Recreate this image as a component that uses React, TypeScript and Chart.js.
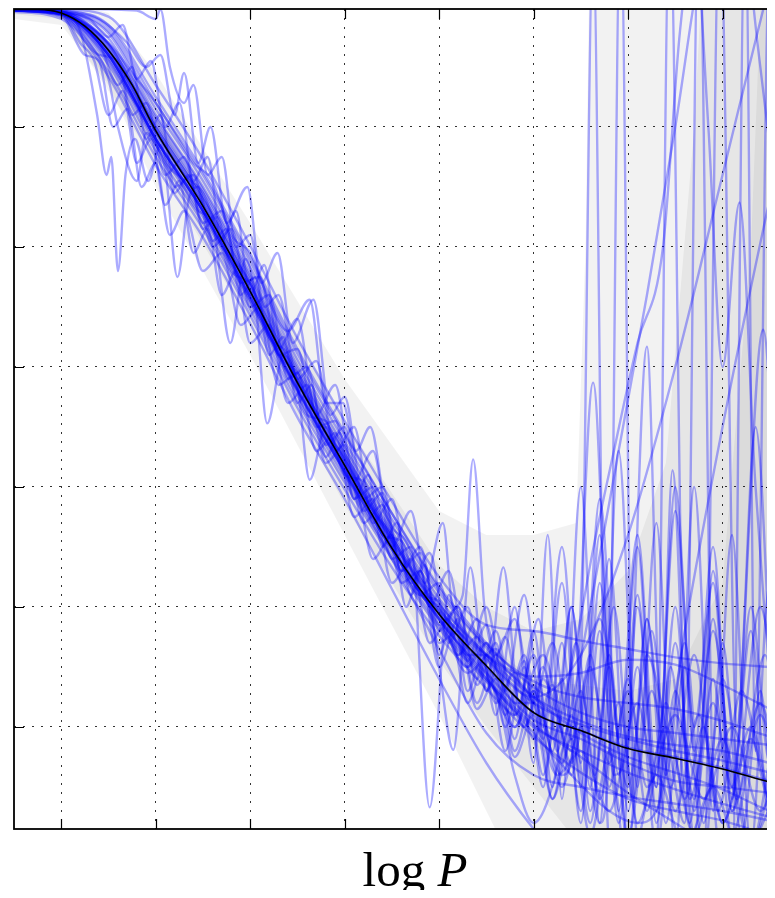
import React, { useEffect, useRef } from "react";
import { Chart, registerables } from "chart.js";

Chart.register(...registerables);

// ---- axes ----
const X_TICKS = [1, 2, 3, 4, 5, 6, 7, 8];
const Y_TICKS = [1, 2, 3, 4, 5, 6];
const X_RANGE = [0.5, 8.566];
const Y_RANGE = [0.15, 6.983];
const X_LABEL_MAIN = "log ";
const X_LABEL_VAR = "P";

// ---- posterior mean ----
const MEAN_X = [0.5, 0.75, 1, 1.25, 1.5, 1.75, 2, 2.5, 3, 3.5, 4, 4.5, 5, 5.5, 6, 6.5, 7, 7.5, 8, 8.5, 8.6];
const MEAN_Y = [6.98, 6.98, 6.95, 6.84, 6.64, 6.35, 5.97, 5.34, 4.63, 3.87, 3.18, 2.49, 1.94, 1.51, 1.12, 0.97, 0.82, 0.74, 0.65, 0.54, 0.52];

// ---- confidence bands ----
const OUTER_X = [0.5, 1, 1.5, 2, 3, 4, 5, 5.5, 6, 6.45, 6.55, 6.62, 8.6];
const OUTER_UP = [7.1, 7.05, 6.95, 6.45, 5.2, 3.9, 2.8, 2.6, 2.6, 2.7, 5.0, 9, 9];
const OUTER_LO = [6.9, 6.85, 6.35, 5.5, 4.1, 2.6, 1.1, 0.3, -0.5, -1, -1, -1, -1];
const MID_X = [0.5, 1, 2, 3, 4, 5, 5.5, 6, 6.5, 7, 7.4, 7.7, 7.9, 8.6];
const MID_UP = [7.02, 7.0, 6.25, 4.95, 3.55, 2.35, 2.0, 1.8, 1.9, 2.3, 3.2, 6, 9, 9];
const MID_LO = [6.94, 6.9, 5.7, 4.35, 2.85, 1.55, 1.0, 0.5, 0.0, -1, -1, -1, -1, -1];
const INNER_X = [0.5, 1, 2, 3, 4, 5, 5.5, 6, 6.5, 7, 7.5, 8, 8.3, 8.5, 8.6];
const INNER_UP = [6.99, 6.97, 6.08, 4.78, 3.35, 2.1, 1.7, 1.4, 1.35, 1.3, 1.4, 2.2, 5, 9, 9];
const INNER_LO = [6.96, 6.93, 5.82, 4.48, 3.0, 1.78, 1.3, 0.85, 0.6, 0.4, 0.25, -0.2, -1, -1, -1];

// ---- smooth posterior samples (on a common grid) ----
const GRID_X = [0.5, 1, 1.5, 2, 2.5, 3, 3.5, 4, 4.5, 5, 5.5, 6, 6.5, 7, 7.5, 8, 8.5, 8.9];
const b01 = [6.99, 6.96, 6.78, 6.10, 5.50, 4.78, 4.01, 3.33, 2.68, 2.07, 1.60, 1.25, 1.05, 0.92, 0.85, 0.80, 0.70, 0.62];
const b02 = [6.97, 6.93, 6.52, 5.80, 5.20, 4.48, 3.71, 3.04, 2.40, 1.82, 1.38, 1.00, 0.80, 0.62, 0.48, 0.36, 0.25, 0.18];
const b03 = [6.99, 6.97, 6.85, 6.25, 5.63, 4.92, 4.15, 3.45, 2.78, 2.15, 1.68, 1.38, 1.25, 1.20, 1.15, 1.05, 0.92, 0.85];
const b04 = [6.98, 6.94, 6.56, 5.85, 5.25, 4.53, 3.76, 3.08, 2.43, 1.85, 1.40, 1.02, 0.75, 0.45, 0.20, -0.05, -0.3, -0.5];
const b05 = [6.99, 6.95, 6.69, 6.00, 5.40, 4.68, 3.91, 3.23, 2.58, 1.98, 1.60, 1.42, 1.45, 1.56, 1.52, 1.35, 1.15, 1.00];
const b06 = [6.99, 6.98, 6.92, 6.35, 5.73, 5.01, 4.24, 3.55, 2.88, 2.25, 1.85, 1.80, 1.72, 1.65, 1.58, 1.53, 1.50, 1.48];
const b07 = [6.97, 6.94, 6.60, 5.90, 5.30, 4.58, 3.81, 3.12, 2.40, 1.65, 0.95, 0.60, 0.50, 0.42, 0.36, 0.30, 0.22, 0.15];
const b08 = [6.96, 6.90, 6.42, 5.68, 5.08, 4.36, 3.58, 2.90, 2.15, 1.40, 0.70, 0.15, -0.3, -0.6, -0.8, -1, -1, -1];
const b09 = [6.98, 6.96, 6.74, 6.05, 5.45, 4.73, 3.96, 3.28, 2.63, 2.03, 1.58, 1.20, 1.02, 0.90, 0.80, 0.72, 0.62, 0.55];
const b10 = [6.98, 6.95, 6.60, 5.90, 5.30, 4.58, 3.81, 3.13, 2.48, 1.89, 1.45, 1.06, 0.90, 0.70, 0.55, 0.50, 0.45, 0.38];
const b11 = [6.99, 6.96, 6.80, 6.15, 5.55, 4.83, 4.06, 3.38, 2.73, 2.12, 1.66, 1.25, 0.95, 0.75, 0.62, 0.48, 0.30, 0.20];
const b12 = [6.97, 6.92, 6.46, 5.75, 5.15, 4.43, 3.66, 2.98, 2.33, 1.76, 1.32, 0.92, 0.62, 0.40, 0.30, 0.22, 0.10, 0.05];
const b13 = [6.99, 6.96, 6.83, 6.20, 5.60, 4.88, 4.11, 3.43, 2.78, 2.17, 1.70, 1.33, 1.12, 1.00, 0.95, 0.90, 0.85, 0.80];
const b14 = [6.98, 6.95, 6.65, 5.97, 5.37, 4.64, 3.87, 3.19, 2.54, 1.95, 1.50, 1.12, 0.97, 0.83, 0.75, 0.66, 0.55, 0.47];
const GRID_SAMPLES = [b01, b02, b03, b04, b05, b06, b07, b08, b09, b10, b11, b12, b13, b14];

// ---- wiggly posterior samples ([logP, value] pairs) ----
const w01: number[][] = [[0.5, 6.98], [1.0, 6.95], [1.2, 6.8], [1.38, 6.1], [1.48, 5.6], [1.53, 5.75], [1.6, 4.8], [1.68, 5.6], [1.78, 5.9], [1.92, 5.55], [2.05, 5.85], [2.2, 5.45], [2.35, 5.6], [2.5, 5.15], [2.65, 5.25], [2.8, 4.8], [3.0, 4.7], [3.2, 4.25], [3.4, 4.1], [3.6, 3.6], [3.8, 3.55], [4.0, 3.1], [4.2, 3.05], [4.4, 2.6], [4.6, 2.55], [4.8, 2.1], [5.0, 2.05], [5.2, 1.6], [5.4, 1.75], [5.6, 1.2], [5.8, 1.45], [6.0, 0.9], [6.2, 1.35], [6.4, 0.6], [6.6, 1.6], [6.8, 0.5], [7.0, 1.4], [7.2, 0.3], [7.4, 1.2], [7.6, 0.4], [7.8, 1.0], [8.0, 0.2], [8.3, 0.9], [8.6, 0.1], [8.9, 0.6]];
const w02: number[][] = [[0.5, 6.97], [1.0, 6.94], [1.3, 6.7], [1.5, 6.4], [1.6, 6.0], [1.8, 5.55], [1.9, 5.95], [2.0, 5.85], [2.1, 5.65], [2.23, 4.75], [2.35, 5.4], [2.45, 5.5], [2.6, 5.05], [2.75, 5.15], [2.9, 4.6], [3.05, 4.75], [3.2, 4.1], [3.35, 4.25], [3.5, 3.7], [3.65, 3.85], [3.8, 3.25], [3.95, 3.45], [4.1, 2.9], [4.25, 3.1], [4.4, 2.5], [4.55, 2.7], [4.7, 2.1], [4.85, 2.35], [5.0, 1.6], [5.15, 1.95], [5.3, 1.3], [5.5, 1.7], [5.7, 1.0], [5.9, 1.55], [6.1, 0.6], [6.3, 1.4], [6.5, 0.3], [6.7, 1.8], [6.9, 0.2], [7.1, 1.5], [7.3, 0.0], [7.5, 1.3], [7.7, 0.4], [7.9, 1.9], [8.1, 0.3], [8.4, 1.2], [8.7, 0.2], [8.9, 0.7]];
const w03: number[][] = [[0.5, 6.99], [1.0, 6.97], [1.4, 6.9], [1.7, 6.7], [1.9, 6.5], [2.05, 6.6], [2.2, 6.1], [2.3, 6.45], [2.45, 5.7], [2.58, 6.0], [2.75, 5.2], [2.97, 5.5], [3.12, 4.7], [3.29, 4.95], [3.45, 4.2], [3.67, 4.56], [3.85, 3.6], [4.0, 3.75], [4.2, 2.9], [4.4, 3.0], [4.6, 2.3], [4.8, 2.5], [5.0, 1.85], [5.2, 2.0], [5.4, 1.4], [5.6, 1.8], [5.8, 1.1], [6.0, 1.6], [6.2, 0.8], [6.4, 2.0], [6.6, 0.5], [6.8, 2.4], [7.0, 0.3], [7.2, 1.9], [7.4, 0.6], [7.6, 1.7], [7.8, 0.2], [8.0, 1.4], [8.3, 0.0], [8.6, 1.0], [8.9, 0.3]];
const w04: number[][] = [[0.5, 6.98], [1.0, 6.95], [1.5, 6.7], [1.8, 6.4], [2.0, 6.2], [2.2, 5.95], [2.4, 5.7], [2.6, 5.55], [2.8, 5.1], [3.0, 4.95], [3.2, 4.55], [3.4, 4.3], [3.63, 4.56], [3.8, 3.7], [3.98, 3.7], [4.12, 3.3], [4.27, 3.5], [4.45, 2.75], [4.65, 2.55], [4.85, 2.2], [5.04, 2.7], [5.15, 2.0], [5.25, 2.1], [5.36, 3.23], [5.48, 2.0], [5.6, 1.6], [5.8, 1.9], [6.0, 1.2], [6.2, 1.7], [6.4, 0.9], [6.6, 1.5], [6.8, 0.7], [7.0, 1.3], [7.2, 0.5], [7.5, 1.1], [7.8, 0.4], [8.1, 1.0], [8.4, 0.3], [8.7, 0.8], [8.9, 0.5]];
const w05: number[][] = [[0.5, 6.97], [1.0, 6.94], [1.4, 6.6], [1.6, 6.55], [1.75, 6.1], [1.9, 6.2], [2.1, 5.6], [2.3, 5.75], [2.5, 5.2], [2.7, 5.3], [2.9, 4.7], [3.1, 4.75], [3.3, 4.1], [3.5, 4.15], [3.7, 3.5], [3.9, 3.55], [4.1, 2.9], [4.3, 3.0], [4.5, 2.4], [4.7, 2.5], [4.9, 0.33], [5.1, 2.1], [5.3, 1.5], [5.5, 1.85], [5.7, 1.1], [5.9, 1.6], [6.1, 0.9], [6.3, 2.2], [6.5, 0.5], [6.7, 2.6], [6.9, 0.3], [7.1, 2.1], [7.3, 0.2], [7.5, 1.7], [7.7, 0.3], [7.9, 1.4], [8.1, 0.1], [8.4, 1.1], [8.7, 0.3], [8.9, 0.8]];
const w06: number[][] = [[0.5, 6.98], [1.0, 6.95], [1.3, 6.75], [1.5, 6.55], [1.7, 6.3], [1.9, 6.05], [2.1, 5.7], [2.3, 5.55], [2.5, 5.3], [2.7, 5.0], [2.9, 4.8], [3.1, 4.45], [3.3, 4.15], [3.5, 3.9], [3.7, 3.6], [3.9, 3.3], [4.1, 3.05], [4.3, 2.8], [4.5, 2.55], [4.7, 2.2], [4.9, 2.0], [5.0, 1.5], [5.15, 0.81], [5.33, 2.33], [5.5, 1.3], [5.68, 2.33], [5.85, 1.2], [6.05, 1.9], [6.25, 0.8], [6.45, 1.7], [6.65, 0.6], [6.85, 2.0], [7.05, 0.4], [7.25, 1.8], [7.45, 0.5], [7.7, 1.6], [7.95, 0.3], [8.2, 1.3], [8.5, 0.4], [8.9, 0.9]];
const w07: number[][] = [[0.5, 6.99], [1.0, 6.99], [1.5, 6.98], [1.8, 6.97], [2.0, 6.9], [2.05, 6.98], [2.15, 6.5], [2.3, 6.2], [2.4, 6.35], [2.55, 5.6], [2.7, 5.75], [2.85, 5.0], [3.0, 5.1], [3.15, 4.5], [3.3, 4.6], [3.5, 3.9], [3.7, 4.05], [3.9, 3.3], [4.1, 3.5], [4.3, 2.7], [4.5, 2.9], [4.7, 2.2], [4.9, 2.45], [5.1, 1.7], [5.3, 2.0], [5.5, 1.3], [5.7, 1.75], [5.9, 1.0], [6.1, 1.5], [6.3, 0.7], [6.5, 1.3], [6.7, 0.4], [6.9, 1.2], [7.1, 0.2], [7.4, 1.0], [7.7, 0.1], [8.0, 0.9], [8.3, 0.0], [8.6, 0.7], [8.9, 0.2]];
const w08: number[][] = [[0.5, 6.98], [1.0, 6.95], [1.5, 6.6], [1.8, 6.2], [2.0, 5.9], [2.2, 5.65], [2.45, 5.3], [2.6, 5.2], [2.79, 4.2], [2.95, 4.9], [3.05, 4.6], [3.18, 3.53], [3.35, 4.1], [3.5, 3.85], [3.63, 3.06], [3.8, 3.5], [4.0, 3.1], [4.15, 2.9], [4.3, 2.4], [4.5, 2.6], [4.65, 2.0], [4.8, 2.3], [5.0, 1.5], [5.2, 1.9], [5.4, 1.2], [5.6, 1.6], [5.8, 0.8], [6.0, 1.3], [6.2, 0.4], [6.4, 1.1], [6.6, 0.2], [6.8, 1.5], [7.0, 0.1], [7.25, 1.3], [7.5, 0.3], [7.75, 1.1], [8.0, 0.2], [8.3, 1.0], [8.6, 0.1], [8.9, 0.6]];
const w09: number[][] = [[0.5, 6.98], [1.0, 6.95], [1.2, 6.7], [1.35, 6.55], [1.5, 6.1], [1.65, 6.3], [1.8, 5.7], [1.95, 5.9], [2.1, 5.35], [2.25, 5.55], [2.4, 4.95], [2.55, 5.15], [2.7, 4.6], [2.85, 4.8], [3.0, 4.2], [3.2, 4.35], [3.4, 3.7], [3.6, 3.85], [3.8, 3.2], [4.0, 3.35], [4.2, 2.7], [4.4, 2.85], [4.6, 2.2], [4.8, 2.3], [5.0, 1.7], [5.2, 1.8], [5.4, 1.15], [5.6, 1.4], [5.8, 0.75], [6.0, 1.1], [6.2, 0.4], [6.4, 0.9], [6.6, 0.1], [6.8, 0.8], [7.0, -0.2], [7.3, 0.6], [7.6, 0.0], [7.9, 0.5], [8.2, -0.1], [8.6, 0.4], [8.9, 0.2]];
const w10: number[][] = [[0.5, 6.97], [1.0, 6.93], [1.25, 6.6], [1.4, 6.55], [1.55, 6.0], [1.7, 6.15], [1.85, 5.5], [2.0, 5.7], [2.15, 5.1], [2.3, 5.3], [2.5, 4.8], [2.7, 4.95], [2.9, 4.35], [3.1, 4.5], [3.3, 3.85], [3.5, 3.95], [3.7, 3.3], [3.9, 3.45], [4.1, 2.75], [4.3, 2.9], [4.5, 2.2], [4.7, 2.4], [4.9, 1.7], [5.1, 1.9], [5.3, 1.2], [5.5, 1.6], [5.7, 0.8], [5.9, 1.5], [6.1, 0.5], [6.3, 1.7], [6.5, 0.2], [6.7, 2.2], [6.9, 0.6], [7.1, 2.5], [7.3, 0.3], [7.5, 2.0], [7.7, 0.1], [7.9, 2.3], [8.1, 0.5], [8.3, 1.8], [8.5, 0.2], [8.7, 1.5], [8.9, 0.4]];
const w11: number[][] = [[0.5, 6.99], [1.0, 6.97], [1.3, 6.9], [1.5, 6.75], [1.65, 6.85], [1.8, 6.4], [1.95, 6.55], [2.1, 6.0], [2.25, 6.2], [2.4, 5.55], [2.55, 5.75], [2.7, 5.05], [2.85, 5.3], [3.0, 4.6], [3.15, 4.85], [3.3, 4.15], [3.5, 4.4], [3.7, 3.6], [3.9, 3.85], [4.1, 3.05], [4.3, 3.3], [4.5, 2.5], [4.7, 2.8], [4.9, 2.0], [5.1, 2.3], [5.3, 1.55], [5.5, 2.0], [5.7, 1.3], [5.9, 2.1], [6.1, 1.0], [6.3, 2.5], [6.5, 0.7], [6.7, 2.9], [6.9, 0.9], [7.1, 2.6], [7.3, 0.6], [7.5, 2.8], [7.7, 1.0], [7.9, 2.2], [8.1, 0.4], [8.3, 2.0], [8.5, 0.7], [8.7, 1.7], [8.9, 0.5]];
const w12: number[][] = [[0.5, 6.98], [1.0, 6.95], [1.4, 6.7], [1.6, 6.35], [1.75, 6.5], [1.9, 5.9], [2.05, 6.1], [2.2, 5.5], [2.4, 5.6], [2.6, 5.0], [2.8, 5.15], [3.0, 4.5], [3.2, 4.6], [3.4, 3.9], [3.6, 4.0], [3.8, 3.35], [4.0, 3.5], [4.2, 2.8], [4.4, 2.95], [4.6, 2.3], [4.8, 2.45], [5.0, 1.8], [5.2, 2.0], [5.4, 1.35], [5.6, 1.7], [5.8, 0.9], [6.0, 1.8], [6.2, 0.5], [6.4, 2.0], [6.6, 0.3], [6.8, 1.6], [7.0, 0.0], [7.2, 1.9], [7.4, 0.2], [7.6, 1.5], [7.8, -0.1], [8.0, 1.7], [8.2, 0.1], [8.4, 1.3], [8.6, -0.2], [8.9, 1.0]];
const w13: number[][] = [[0.5, 6.98], [1.0, 6.95], [1.5, 6.63], [2.0, 5.96], [2.5, 5.35], [3.0, 4.62], [3.5, 3.88], [4.0, 3.17], [4.5, 2.52], [4.8, 2.1], [5.0, 2.2], [5.2, 1.6], [5.4, 1.9], [5.6, 1.1], [5.8, 2.0], [6.0, 0.7], [6.15, 2.6], [6.3, 0.4], [6.5, 3.0], [6.7, 0.2], [6.9, 3.3], [7.1, 0.5], [7.3, 2.7], [7.5, 0.0], [7.7, 3.0], [7.9, 0.3], [8.1, 2.6], [8.3, 0.0], [8.5, 2.2], [8.7, 0.3], [8.9, 1.8]];

// ---- samples that blow up at large log P ----
const r01: number[][] = [[0.5, 6.98], [1.0, 6.95], [1.5, 6.66], [2.0, 5.98], [2.3, 5.6], [2.5, 5.45], [2.7, 5.05], [3.0, 4.7], [3.3, 4.1], [3.5, 3.95], [3.8, 3.45], [4.0, 3.25], [4.3, 2.8], [4.5, 2.6], [4.8, 2.1], [5.0, 2.0], [5.3, 1.6], [5.5, 1.6], [5.8, 1.2], [6.0, 1.2], [6.3, 0.6], [6.5, 1.5], [6.63, 7.5], [6.75, 1.0], [6.9, -0.5], [7.1, 2.0], [7.3, 0.5], [7.5, 3.0], [7.7, 0.8], [7.9, 2.5], [8.1, 0.3], [8.4, 2.0], [8.7, 0.5], [8.9, 1.5]];
const r02: number[][] = [[0.5, 6.97], [1.0, 6.94], [1.5, 6.6], [2.0, 5.9], [2.5, 5.3], [3.0, 4.58], [3.5, 3.82], [4.0, 3.14], [4.5, 2.5], [5.0, 1.9], [5.3, 1.5], [5.5, 1.7], [5.8, 1.0], [6.0, 1.35], [6.3, 0.5], [6.5, 1.0], [6.7, 0.2], [6.8, 0.8], [6.92, 7.8], [7.05, 0.5], [7.25, -0.3], [7.45, 1.5], [7.65, 0.2], [7.9, 1.8], [8.15, 0.4], [8.45, 1.6], [8.7, 0.2], [8.9, 0.9]];
const r03: number[][] = [[0.5, 6.99], [1.0, 6.96], [1.5, 6.68], [2.0, 6.0], [2.5, 5.4], [3.0, 4.68], [3.5, 3.9], [4.0, 3.22], [4.5, 2.56], [5.0, 1.96], [5.3, 1.7], [5.6, 1.3], [5.8, 0.6], [6.0, 0.2], [6.3, 0.8], [6.6, 2.0], [6.9, 3.3], [7.2, 4.6], [7.5, 6.0], [7.8, 7.5], [8.1, 8.2], [8.4, 6.5], [8.7, 4.5], [8.9, 3.2]];
const r04: number[][] = [[0.5, 6.98], [1.0, 6.95], [1.5, 6.62], [2.0, 5.93], [2.5, 5.33], [3.0, 4.6], [3.5, 3.84], [4.0, 3.16], [4.5, 2.5], [5.0, 1.92], [5.5, 1.45], [5.8, 1.0], [6.0, 1.3], [6.2, 0.9], [6.4, 1.5], [6.63, 2.48], [6.85, 3.3], [7.1, 4.2], [7.37, 5.0], [7.55, 6.8], [7.7, 7.6], [7.85, 6.0], [8.0, 4.0], [8.18, 5.37], [8.35, 3.0], [8.6, 1.0], [8.9, 2.0]];
const r05: number[][] = [[0.5, 6.98], [1.0, 6.96], [1.5, 6.7], [2.0, 6.08], [2.5, 5.48], [3.0, 4.75], [3.5, 3.98], [4.0, 3.28], [4.5, 2.6], [5.0, 2.02], [5.5, 1.6], [6.0, 1.2], [6.25, 0.6], [6.5, 0.8], [6.8, 0.3], [7.1, 1.2], [7.3, 0.5], [7.44, 7.8], [7.6, 0.8], [7.8, -0.2], [7.97, 7.8], [8.15, 1.0], [8.35, 3.5], [8.6, 0.5], [8.9, 2.0]];
const r06: number[][] = [[0.5, 6.98], [1.0, 6.95], [1.5, 6.64], [2.0, 5.96], [2.5, 5.36], [3.0, 4.64], [3.5, 3.87], [4.0, 3.2], [4.5, 2.55], [5.0, 1.95], [5.3, 1.45], [5.6, 1.65], [5.9, 1.0], [6.1, 1.4], [6.4, 0.8], [6.63, 3.87], [6.85, 0.6], [7.0, 0.9], [7.2, 4.17], [7.35, 1.0], [7.47, 3.14], [7.65, 0.4], [7.9, 1.2], [8.1, 0.5], [8.43, 4.31], [8.7, 0.8], [8.9, 1.5]];
const r07: number[][] = [[0.5, 6.97], [1.0, 6.94], [1.5, 6.58], [2.0, 5.88], [2.5, 5.28], [3.0, 4.55], [3.5, 3.8], [4.0, 3.12], [4.5, 2.48], [5.0, 1.9], [5.5, 1.42], [5.8, 1.1], [6.1, 1.6], [6.4, 0.7], [6.7, 1.9], [7.0, 0.5], [7.2, 1.6], [7.4, 1.0], [7.6, 0.2], [7.75, 7.8], [7.9, 0.5], [8.1, -0.3], [8.24, 7.8], [8.35, 0.8], [8.5, 7.5], [8.65, 0.5], [8.9, 1.0]];
const r08: number[][] = [[0.5, 6.98], [1, 6.96], [1.5, 6.69], [2, 6.02], [2.5, 5.42], [3, 4.7], [3.5, 3.93], [4, 3.24], [4.5, 2.58], [5, 1.99], [5.5, 1.56], [6, 1.25], [6.5, 1.6], [7, 2.6], [7.5, 4.0], [8, 5.6], [8.5, 7.2], [8.9, 8.4]];
const r09: number[][] = [[0.5, 6.97], [1, 6.94], [1.5, 6.6], [2, 5.9], [2.5, 5.3], [3, 4.56], [3.5, 3.8], [4, 3.13], [4.5, 2.47], [5, 1.9], [5.5, 1.4], [6, 0.95], [6.4, 0.6], [6.8, 0.3], [7.1, 0.2], [7.3, 0.3], [7.6, 1.8], [8.0, 3.5], [8.5, 5.4], [8.9, 6.8]];
const PAIR_SAMPLES = [w01, w02, w03, w04, w05, w06, w07, w08, w09, w10, w11, w12, w13, r01, r02, r03, r04, r05, r06, r07, r08, r09];

const SAMPLE_COLOR = "rgba(0,0,255,0.33)";
const BAND_COLOR = "rgba(0,0,0,0.05)";

const frameAndLabel = {
  id: "frameAndLabel",
  afterDatasetsDraw(chart: any) {
    const { ctx, chartArea, scales } = chart;
    const { left, right, top, bottom } = chartArea;
    ctx.save();
    ctx.strokeStyle = "#000";
    ctx.lineWidth = 1.8;
    ctx.strokeRect(left, top, right - left, bottom - top);
    ctx.lineWidth = 1.2;
    ctx.beginPath();
    const L = 10;
    X_TICKS.forEach((v) => {
      const p = Math.round(scales.x.getPixelForValue(v)) + 0.5;
      ctx.moveTo(p, bottom); ctx.lineTo(p, bottom - L);
      ctx.moveTo(p, top); ctx.lineTo(p, top + L);
    });
    Y_TICKS.forEach((v) => {
      const p = Math.round(scales.y.getPixelForValue(v)) + 0.5;
      ctx.moveTo(left, p); ctx.lineTo(left + L, p);
      ctx.moveTo(right, p); ctx.lineTo(right - L, p);
    });
    ctx.stroke();
    ctx.restore();

    ctx.save();
    ctx.fillStyle = "#000";
    ctx.textBaseline = "alphabetic";
    const up = '49px "Liberation Serif", "DejaVu Serif", serif';
    const it = 'italic 49px "Liberation Serif", "DejaVu Serif", serif';
    ctx.font = up;
    const w1 = ctx.measureText(X_LABEL_MAIN).width;
    ctx.font = it;
    const w2 = ctx.measureText(X_LABEL_VAR).width;
    const cx = (left + right) / 2 + 20;
    const x0 = cx - (w1 + w2) / 2;
    const base = bottom + 57;
    ctx.font = up;
    ctx.fillText(X_LABEL_MAIN, x0, base);
    ctx.font = it;
    ctx.fillText(X_LABEL_VAR, x0 + w1, base);
    ctx.restore();
  },
};

function toPts(xs: number[], ys: number[]) {
  return xs.map((x, i) => ({ x, y: ys[i] }));
}

export default function App() {
  const ref = useRef<HTMLCanvasElement | null>(null);

  useEffect(() => {
    if (!ref.current) return;
    const datasets: any[] = [];
    const bands = [
      [OUTER_X, OUTER_UP, OUTER_LO],
      [MID_X, MID_UP, MID_LO],
      [INNER_X, INNER_UP, INNER_LO],
    ];
    bands.forEach(([bx, bu, bl]) => {
      datasets.push({
        data: toPts(bx, bu), fill: "+1", backgroundColor: BAND_COLOR,
        borderColor: "rgba(0,0,0,0)", borderWidth: 0, pointRadius: 0, tension: 0, order: 3,
      });
      datasets.push({
        data: toPts(bx, bl), fill: false, backgroundColor: "rgba(0,0,0,0)",
        borderColor: "rgba(0,0,0,0)", borderWidth: 0, pointRadius: 0, tension: 0, order: 3,
      });
    });
    const lineStyle = {
      fill: false, borderColor: SAMPLE_COLOR, borderWidth: 2.4, pointRadius: 0,
      cubicInterpolationMode: "monotone", order: 1,
    };
    GRID_SAMPLES.forEach((s) => datasets.push({ ...lineStyle, data: toPts(GRID_X, s) }));
    PAIR_SAMPLES.forEach((s) => datasets.push({ ...lineStyle, data: s.map(([x, y]) => ({ x, y })) }));
    datasets.push({
      data: toPts(MEAN_X, MEAN_Y), fill: false, borderColor: "#000", borderWidth: 1.6,
      pointRadius: 0, cubicInterpolationMode: "monotone", order: 0,
    });

    const chart = new Chart(ref.current, {
      type: "line",
      data: { datasets },
      options: {
        animation: false,
        responsive: false,
        events: [],
        layout: { padding: { left: 6, right: 7, top: 1, bottom: 69 } },
        plugins: { legend: { display: false }, tooltip: { enabled: false } },
        scales: {
          x: {
            type: "linear", min: X_RANGE[0], max: X_RANGE[1],
            afterBuildTicks: (s: any) => { s.ticks = X_TICKS.map((v) => ({ value: v })); },
            afterFit: (s: any) => { s.height = 0; },
            ticks: { display: false },
            grid: { color: "rgba(0,0,0,0.8)", lineWidth: 1, drawTicks: false },
            border: { display: false, dash: [2, 7] },
          },
          y: {
            type: "linear", min: Y_RANGE[0], max: Y_RANGE[1],
            afterBuildTicks: (s: any) => { s.ticks = Y_TICKS.map((v) => ({ value: v })); },
            afterFit: (s: any) => { s.width = 0; },
            ticks: { display: false },
            grid: { color: "rgba(0,0,0,0.8)", lineWidth: 1, drawTicks: false },
            border: { display: false, dash: [2, 7] },
          },
        },
      } as any,
      plugins: [frameAndLabel],
    });
    return () => chart.destroy();
  }, []);

  return (
    <div style={{ width: 767, height: 890, marginBottom: -8, overflow: "hidden", background: "#fff" }}>
      <canvas ref={ref} width={775} height={890} style={{ display: "block", width: 775, height: 890 }} />
    </div>
  );
}
